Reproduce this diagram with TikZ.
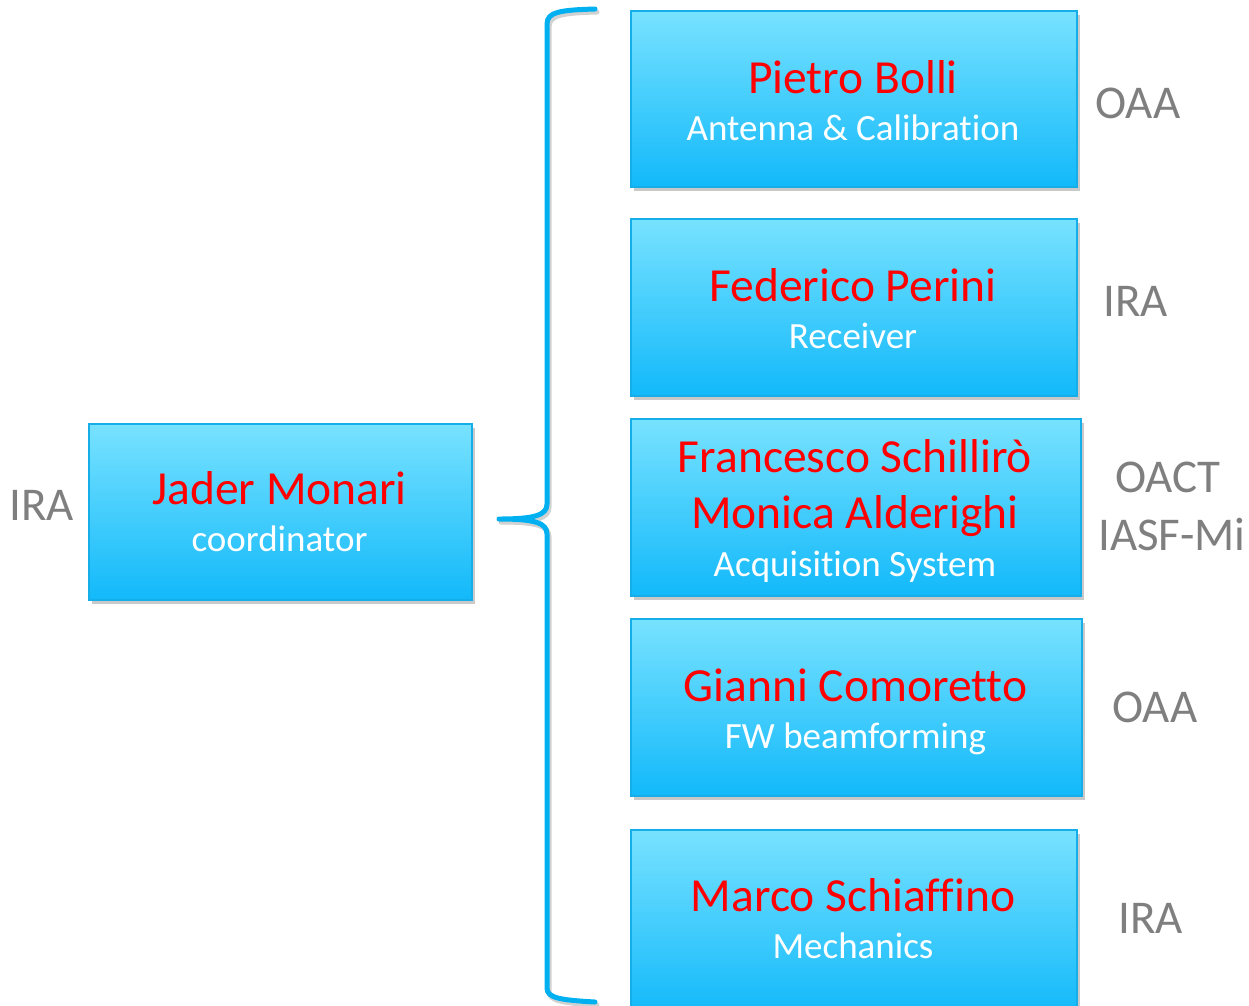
\documentclass[tikz,border=0pt]{standalone}
\usepackage{fontspec}
\setmainfont{Carlito}[Ligatures={NoCommon}]
\usetikzlibrary{shadows}
\definecolor{boxtop}{HTML}{78E2FF}
\definecolor{boxbot}{HTML}{12B9FA}
\definecolor{boxline}{HTML}{16AEE8}
\definecolor{bracecol}{HTML}{00B0F0}
\definecolor{orggray}{HTML}{7F7F7F}
\definecolor{namered}{HTML}{FF0000}
\tikzset{
  card/.style={draw=boxline, line width=2pt, top color=boxtop, bottom color=boxbot,
    drop shadow={shadow xshift=3pt, shadow yshift=-4pt, opacity=0.3, fill=black!70},
    inner sep=0pt, anchor=north west},
  pname/.style={anchor=base, text=namered, font=\fontsize{47.5}{56}\selectfont, inner sep=0pt},
  prole/.style={anchor=base, text=white, font=\fontsize{37}{44}\selectfont, inner sep=0pt},
  inst/.style={anchor=base west, text=orggray, font=\fontsize{47}{56}\selectfont, inner sep=0pt},
  bracestyle/.style={draw=bracecol, line width=5pt, line cap=round, line join=round},
  braceshadow/.style={draw=black, opacity=0.18, line width=5pt, line cap=round, line join=round}
}
\begin{document}
\begin{tikzpicture}[x=1pt,y=-1pt]
\useasboundingbox (0,0) rectangle (1249,1005);
% boxes
\node[card, minimum width=383pt, minimum height=176pt] (jm) at (88,423) {};
\node[card, minimum width=446pt, minimum height=176pt] (pb) at (630,10) {};
\node[card, minimum width=446pt, minimum height=177pt] (fp) at (630,218) {};
\node[card, minimum width=450pt, minimum height=177pt] (fs) at (630,418) {};
\node[card, minimum width=451pt, minimum height=177pt] (gc) at (630,618) {};
\node[card, minimum width=446pt, minimum height=185pt] (ms) at (630,829) {};
% texts
\node[pname] (jmn) at (279.5,504) {Jader Monari};
\node[prole] (jmr) at (279.5,551) {coordinator};
\node[pname] (pbn) at (853,93) {Pietro Bolli};
\node[prole] (pbr) at (853,140) {Antenna \& Calibration};
\node[pname] (fpn) at (853,301) {Federico Perini};
\node[prole] (fpr) at (853,348) {Receiver};
\node[pname] (fsn) at (855,472) {Francesco Schillirò};
\node[pname] (man) at (855,528) {Monica Alderighi};
\node[prole] (fsr) at (855,576) {Acquisition System};
\node[pname] (gcn) at (855.5,701) {Gianni Comoretto};
\node[prole] (gcr) at (855.5,748) {FW beamforming};
\node[pname] (msn) at (853,911) {Marco Schiaffino};
\node[prole] (msr) at (853,958) {Mechanics};
% institutes
\node[inst] (i0) at (9,520) {IRA};
\node[inst] (i1) at (1095,118) {OAA};
\node[inst] (i2) at (1103,316) {IRA};
\node[inst] (i3a) at (1115,492) {OACT};
\node[inst] (i3b) at (1098,550) {IASF-Mi};
\node[inst] (i4) at (1112,722) {OAA};
\node[inst] (i5) at (1118,933) {IRA};
% brace
\coordinate (btop) at (595,9);
\coordinate (btip) at (499,519);
\coordinate (bbot) at (595,1002);
\draw[braceshadow, shift={(2,3)}]
  (595,9) .. controls (560,10) and (547,12) .. (547,24)
  -- (547,504) .. controls (547,515) and (535,519) .. (499,519)
  .. controls (535,519) and (547,523) .. (547,534)
  -- (547,988) .. controls (547,998) and (560,1000) .. (595,1002);
\draw[bracestyle]
  (btop) .. controls (560,10) and (547,12) .. (547,24)
  -- (547,504) .. controls (547,515) and (535,519) .. (btip)
  .. controls (535,519) and (547,523) .. (547,534)
  -- (547,988) .. controls (547,998) and (560,1000) .. (bbot);
\end{tikzpicture}
\end{document}
